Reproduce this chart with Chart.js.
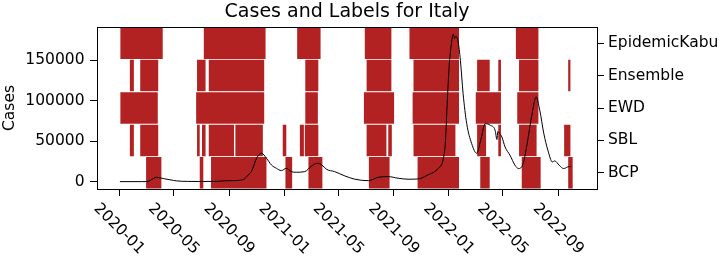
<!DOCTYPE html>
<html>
<head>
<meta charset="utf-8">
<script src="https://cdn.jsdelivr.net/npm/chart.js@4.4.1/dist/chart.umd.min.js"></script>
<style>
  html, body { margin: 0; padding: 0; background: #fff; }
</style>
</head>
<body>
<canvas id="chart" width="724" height="258"></canvas>
<script>
// rows of the right axis, top to bottom
const rowLabels = ['EpidemicKabu', 'Ensemble', 'EWD', 'SBL', 'BCP'];
const xTickLabels = ['2020-01', '2020-05', '2020-09', '2021-01', '2021-05', '2021-09', '2022-01', '2022-05', '2022-09'];
const yTickValues = [0, 50000, 100000, 150000];

// daily cases (smoothed)
const caseDates = ['2020-01-03', '2020-02-20', '2020-03-06', '2020-03-14', '2020-03-24', '2020-04-08', '2020-04-23', '2020-05-08',
  '2020-06-01', '2020-06-28', '2020-08-01', '2020-08-26', '2020-09-14', '2020-10-04', '2020-10-13', '2020-10-21',
  '2020-11-01', '2020-11-12', '2020-11-23', '2020-12-04', '2020-12-15', '2020-12-26', '2021-01-06', '2021-01-17',
  '2021-01-28', '2021-02-16', '2021-03-03', '2021-03-16', '2021-03-26', '2021-04-05', '2021-04-23', '2021-05-16',
  '2021-06-07', '2021-07-07', '2021-07-29', '2021-08-20', '2021-09-11', '2021-10-03', '2021-10-25', '2021-11-16',
  '2021-12-09', '2021-12-20', '2021-12-25', '2021-12-28', '2022-01-02', '2022-01-07', '2022-01-11', '2022-01-14',
  '2022-01-17', '2022-01-22', '2022-01-27', '2022-02-02', '2022-02-10', '2022-02-21', '2022-03-04', '2022-03-13',
  '2022-03-23', '2022-04-03', '2022-04-14', '2022-04-18', '2022-04-20', '2022-04-24', '2022-04-29', '2022-05-06',
  '2022-05-17', '2022-05-28', '2022-06-05', '2022-06-15', '2022-06-24', '2022-07-05', '2022-07-14', '2022-07-22',
  '2022-07-31', '2022-08-09', '2022-08-19', '2022-08-24', '2022-09-03', '2022-09-13', '2022-09-22', '2022-09-29'];
const caseValues = [0, 0, 400, 2800, 5400, 3800, 2300, 900,
  300, 200, 300, 1100, 1300, 3000, 8000, 13000,
  28900, 35100, 28900, 20600, 16500, 13600, 16500, 12400,
  11600, 12400, 19400, 22700, 20600, 15300, 12400, 7000,
  3000, 1200, 5400, 6200, 4200, 3000, 3300, 8300,
  16500, 28000, 51000, 88000, 141700, 170500, 182000, 177000,
  179600, 172600, 150000, 108700, 71700, 47000, 35000, 51100,
  71700, 69700, 63500, 52000, 62000, 59300, 55200, 42900,
  32600, 20300, 16100, 22200, 47000, 84000, 104600, 88200,
  59300, 38800, 24300, 25600, 20300, 16100, 18200, 19000];

// labelled periods per method
const epidemicKabuSpans = [['2020-01-03', '2020-04-08'], ['2020-07-06', '2020-11-22'], ['2021-01-29', '2021-03-24'],
  ['2021-06-28', '2021-08-28'], ['2021-10-05', '2022-01-25'], ['2022-05-29', '2022-07-20']];
const ensembleSpans = [['2020-01-24', '2020-02-04'], ['2020-02-16', '2020-03-29'], ['2020-06-21', '2020-07-12'],
  ['2020-07-17', '2020-11-19'], ['2021-02-16', '2021-03-19'], ['2021-07-02', '2021-08-28'], ['2021-10-14', '2022-01-25'],
  ['2022-03-04', '2022-04-03'], ['2022-04-20', '2022-04-28'], ['2022-06-05', '2022-07-20'], ['2022-09-22', '2022-09-29']];
const ewdSpans = [['2020-01-03', '2020-03-28'], ['2020-06-19', '2020-11-19'], ['2021-02-16', '2021-03-18'],
  ['2021-06-26', '2021-09-03'], ['2021-10-12', '2022-01-25'], ['2022-03-01', '2022-04-28'], ['2022-06-01', '2022-07-20']];
const sblSpans = [['2020-01-24', '2020-02-04'], ['2020-02-16', '2020-03-29'], ['2020-06-21', '2020-06-29'],
  ['2020-07-02', '2020-07-12'], ['2020-07-17', '2020-09-13'], ['2020-09-14', '2020-11-16'], ['2020-12-28', '2021-01-07'],
  ['2021-02-04', '2021-02-15'], ['2021-02-15', '2021-03-19'], ['2021-07-02', '2021-08-17'], ['2021-08-19', '2021-08-29'],
  ['2021-10-14', '2022-01-17'], ['2022-03-04', '2022-03-26'], ['2022-04-20', '2022-04-28'], ['2022-06-05', '2022-07-16'],
  ['2022-09-13', '2022-09-29']];
const bcpSpans = [['2020-02-29', '2020-04-05'], ['2020-06-27', '2020-07-07'], ['2020-07-22', '2020-11-24'],
  ['2021-01-03', '2021-01-20'], ['2021-02-23', '2021-03-28'], ['2021-07-07', '2021-08-24'], ['2021-10-23', '2022-01-25'],
  ['2022-03-11', '2022-04-03'], ['2022-06-11', '2022-07-25'], ['2022-09-22', '2022-10-04']];

// days since 2020-01-01
function dayOf(s) {
    const p = s.split('-').map(Number);
    return (Date.UTC(p[0], p[1] - 1, p[2] || 1) - Date.UTC(2020, 0, 1)) / 864e5;
}

const spansByRow = {
    'EpidemicKabu': epidemicKabuSpans,
    'Ensemble': ensembleSpans,
    'EWD': ewdSpans,
    'SBL': sblSpans,
    'BCP': bcpSpans
};

const barData = [];
rowLabels.forEach(function(row) {
    spansByRow[row].forEach(function(sp) {
        barData.push({ x: [dayOf(sp[0]), dayOf(sp[1])], y: row });
    });
});

const lineData = caseDates.map(function(d, i) {
    return { x: dayOf(d), y: caseValues[i] };
});

const FONT = 'DejaVu Sans';
const tickFont = { family: FONT, size: 15.5 };

// title, top spine and slanted date labels
const extrasPlugin = {
    id: 'extras',
    afterDraw: function(chart) {
        const ctx = chart.ctx;
        const area = chart.chartArea;
        const xs = chart.scales.x;
        ctx.save();
        ctx.strokeStyle = '#000';
        ctx.lineWidth = 1;
        ctx.beginPath();
        ctx.moveTo(area.left, area.top + 0.5);
        ctx.lineTo(area.right, area.top + 0.5);
        ctx.stroke();

        ctx.fillStyle = '#000';
        ctx.font = '19px "' + FONT + '"';
        ctx.textAlign = 'center';
        ctx.textBaseline = 'alphabetic';
        ctx.fillText('Cases and Labels for Italy', (area.left + area.right) / 2, 17);

        ctx.font = '15.5px "' + FONT + '"';
        ctx.textBaseline = 'middle';
        xTickLabels.forEach(function(lbl) {
            const px = xs.getPixelForValue(dayOf(lbl));
            ctx.save();
            ctx.translate(px, area.bottom + 40);
            ctx.rotate(Math.PI / 4);
            ctx.fillText(lbl, 0, 0);
            ctx.restore();
        });
        ctx.restore();
    }
};

new Chart(document.getElementById('chart'), {
    type: 'line',
    data: {
        datasets: [
            {
                type: 'line',
                label: 'Cases',
                data: lineData,
                xAxisID: 'x',
                yAxisID: 'y',
                borderColor: '#000',
                borderWidth: 1,
                pointRadius: 0,
                cubicInterpolationMode: 'monotone',
                fill: false,
                order: 0
            },
            {
                type: 'bar',
                label: 'Labels',
                data: barData,
                indexAxis: 'y',
                xAxisID: 'x',
                yAxisID: 'y2',
                backgroundColor: '#b22222',
                borderColor: 'rgba(255,255,255,0.85)',
                borderWidth: 0.8,
                borderSkipped: false,
                barPercentage: 1,
                categoryPercentage: 1,
                order: 1
            }
        ]
    },
    options: {
        responsive: false,
        animation: false,
        devicePixelRatio: 1,
        layout: { padding: { top: 27, left: 0, right: 0, bottom: 0 } },
        plugins: {
            legend: { display: false },
            tooltip: { enabled: false }
        },
        scales: {
            x: {
                type: 'linear',
                position: 'bottom',
                min: -48.8,
                max: 1059.9,
                offset: false,
                grid: { drawOnChartArea: false, drawTicks: true, tickLength: 7, color: '#000', offset: false },
                border: { display: true, color: '#000', width: 1 },
                ticks: { display: false },
                afterBuildTicks: function(s) {
                    s.ticks = xTickLabels.map(function(l) { return { value: dayOf(l) }; });
                },
                afterFit: function(s) { s.height = 69; }
            },
            y: {
                type: 'linear',
                position: 'left',
                min: -9100,
                max: 191100,
                grid: { drawOnChartArea: false, drawTicks: true, tickLength: 7, color: '#000' },
                border: { display: true, color: '#000', width: 1 },
                ticks: {
                    font: tickFont,
                    color: '#000',
                    padding: 5.5,
                    autoSkip: false,
                    callback: function(v) { return String(v); }
                },
                title: {
                    display: true,
                    text: 'Cases',
                    font: tickFont,
                    color: '#000',
                    padding: { top: 1, bottom: 0 }
                },
                afterBuildTicks: function(s) {
                    s.ticks = yTickValues.map(function(v) { return { value: v }; });
                },
                afterFit: function(s) { s.width = 97; }
            },
            y2: {
                type: 'category',
                position: 'right',
                labels: rowLabels,
                offset: true,
                grid: { drawOnChartArea: false, drawTicks: true, tickLength: 7, color: '#000', offset: false },
                border: { display: true, color: '#000', width: 1 },
                ticks: { font: tickFont, color: '#000', padding: 4, autoSkip: false },
                afterFit: function(s) { s.width = 127; }
            }
        }
    },
    plugins: [extrasPlugin]
});
</script>
</body>
</html>
